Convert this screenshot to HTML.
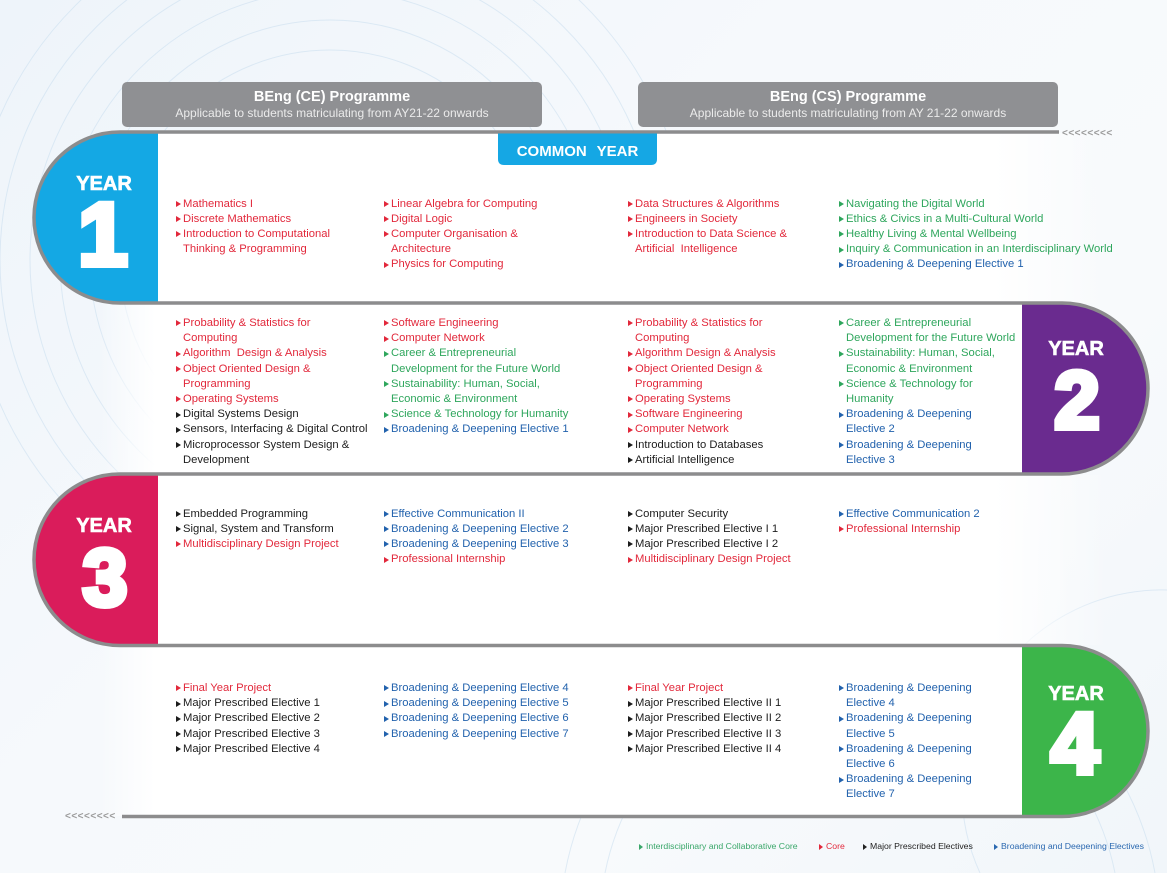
<!DOCTYPE html>
<html><head><meta charset="utf-8">
<style>
html,body{margin:0;padding:0;width:1167px;height:873px;overflow:hidden;}
body{font-family:"Liberation Sans",Arial,sans-serif;}
#wrap{position:relative;width:1167px;height:873px;overflow:hidden;background:linear-gradient(135deg,#eef4fa 0%,#f6f9fc 40%,#f8fafc 70%,#f1f6fa 100%);}
.abs{position:absolute;}
.hdr{position:absolute;top:82px;width:420px;height:45px;background:#8f9093;border-radius:5px;color:#fff;text-align:center;}
.col{position:absolute;font-size:11.25px;line-height:15.2px;white-space:nowrap;}
.col div{position:relative;padding-left:7px;}
.col div::before{content:"";position:absolute;left:0;top:4.4px;border-left:5px solid currentColor;border-top:3.2px solid transparent;border-bottom:3.2px solid transparent;}
.r{color:#e2283b}.g{color:#2ea65c}.b{color:#2262ad}.k{color:#1c1c1c}
.yr{position:absolute;width:120px;text-align:center;color:#fff;font-weight:bold;}
.yw{font-size:20px;line-height:20px;-webkit-text-stroke:0.6px #fff;}
.dg{-webkit-text-stroke:6px #fff;}
.arr{position:absolute;font-size:10px;font-weight:bold;color:#9a9a9a;letter-spacing:0.5px;line-height:10px;}
.leg{position:absolute;top:841px;font-size:8.7px;line-height:11px;white-space:nowrap;padding-left:7px;}
.leg::before{content:"";position:absolute;left:0;top:2.5px;border-left:4.5px solid currentColor;border-top:3px solid transparent;border-bottom:3px solid transparent;}
</style></head><body><div id="wrap">

<svg class="abs" style="left:0;top:0" width="1167" height="873" viewBox="0 0 1167 873">
<defs>
<linearGradient id="fadeR" x1="0" x2="1" y1="0" y2="0">
<stop offset="0" stop-color="#fff" stop-opacity="1"/>
<stop offset="0.88" stop-color="#fff" stop-opacity="1"/>
<stop offset="1" stop-color="#fff" stop-opacity="0"/>
</linearGradient>
<linearGradient id="fadeL" x1="0" x2="1" y1="0" y2="0">
<stop offset="0" stop-color="#fff" stop-opacity="0"/>
<stop offset="0.06" stop-color="#fff" stop-opacity="1"/>
<stop offset="1" stop-color="#fff" stop-opacity="1"/>
</linearGradient>
</defs>
<g fill="none" stroke="#c6dcee" stroke-width="1" opacity="0.5">
<circle cx="330" cy="260" r="210"/>
<circle cx="330" cy="260" r="240"/>
<circle cx="330" cy="260" r="270"/>
<circle cx="330" cy="260" r="300"/>
<circle cx="330" cy="260" r="330"/>
<circle cx="330" cy="260" r="360"/>
<path d="M605,873 A260,260 0 0 1 1115,873"/>
<path d="M565,873 A300,300 0 0 1 1155,873"/>
<path d="M980,873 A200,200 0 0 1 1167,590"/>
</g>
<rect x="158" y="133" width="950" height="170" fill="url(#fadeR)"/>
<rect x="100" y="304" width="922" height="170" fill="url(#fadeL)"/>
<rect x="158" y="475" width="950" height="170" fill="url(#fadeR)"/>
<rect x="100" y="646" width="922" height="170" fill="url(#fadeL)"/>

<path d="M158,132 L120,132 A86,85.5 0 0 0 34,217.5 A86,85.5 0 0 0 120,303 L158,303 Z" fill="#14a8e4"/>
<path d="M1022,303 L1062,303 A86,85.5 0 0 1 1148,388.5 A86,85.5 0 0 1 1062,474 L1022,474 Z" fill="#6a2b8f"/>
<path d="M158,474 L120,474 A86,85.75 0 0 0 34,559.75 A86,85.75 0 0 0 120,645.5 L158,645.5 Z" fill="#da1c5b"/>
<path d="M1022,645.5 L1062,645.5 A86,85.5 0 0 1 1148,731 A86,85.5 0 0 1 1062,816.5 L1022,816.5 Z" fill="#3cb54a"/>

<path d="M1059,132 L120,132 A86,85.5 0 0 0 34,217.5 A86,85.5 0 0 0 120,303 L1062,303 A86,85.5 0 0 1 1148,388.5 A86,85.5 0 0 1 1062,474 L120,474 A86,85.75 0 0 0 34,559.75 A86,85.75 0 0 0 120,645.5 L1062,645.5 A86,85.5 0 0 1 1148,731 A86,85.5 0 0 1 1062,816.5 L122,816.5" fill="none" stroke="#8c8c8d" stroke-width="3.5"/>

<path d="M498,133.5 L657,133.5 L657,159 Q657,165 651,165 L504,165 Q498,165 498,159 Z" fill="#15a7e4"/>
</svg>

<div class="hdr" style="left:122px;">
<div class="abs" style="left:0;right:0;top:7px;font-size:14.5px;font-weight:bold;line-height:16px;">BEng (CE) Programme</div>
<div class="abs" style="left:0;right:0;top:24px;font-size:12px;line-height:14px;color:#ebebeb;">Applicable to students matriculating from AY21-22 onwards</div>
</div>
<div class="hdr" style="left:638px;">
<div class="abs" style="left:0;right:0;top:7px;font-size:14.5px;font-weight:bold;line-height:16px;">BEng (CS) Programme</div>
<div class="abs" style="left:0;right:0;top:24px;font-size:12px;line-height:14px;color:#ebebeb;">Applicable to students matriculating from AY 21-22 onwards</div>
</div>

<div class="abs" style="left:498px;width:159px;top:143px;text-align:center;color:#fff;font-weight:bold;font-size:15px;line-height:17px;word-spacing:6px;">COMMON YEAR</div>

<div class="arr" style="left:1062px;top:129px;">&lt;&lt;&lt;&lt;&lt;&lt;&lt;&lt;</div>
<div class="arr" style="left:65px;top:812px;">&lt;&lt;&lt;&lt;&lt;&lt;&lt;&lt;</div>

<!-- YEAR labels -->
<div class="yr yw" style="left:44px;top:174px;">YEAR</div>
<div class="yr dg" style="left:43px;top:189.7px;font-size:89px;line-height:89px;">1</div>
<div class="yr yw" style="left:1016px;top:338.5px;">YEAR</div>
<div class="yr dg" style="left:1017px;top:361.4px;font-size:81px;line-height:81px;">2</div>
<div class="yr yw" style="left:44px;top:516px;">YEAR</div>
<div class="yr dg" style="left:45px;top:538.3px;font-size:80px;line-height:80px;">3</div>
<div class="yr yw" style="left:1016px;top:684px;">YEAR</div>
<div class="yr dg" style="left:1015px;top:700.7px;font-size:86.6px;line-height:86.6px;">4</div>

<!-- Year 1 -->
<div class="col" style="left:176px;top:196.5px;">
<div class="r">Mathematics I</div>
<div class="r">Discrete Mathematics</div>
<div class="r">Introduction to Computational<br>Thinking &amp; Programming</div>
</div>
<div class="col" style="left:384px;top:196.5px;">
<div class="r">Linear Algebra for Computing</div>
<div class="r">Digital Logic</div>
<div class="r">Computer Organisation &amp;<br>Architecture</div>
<div class="r">Physics for Computing</div>
</div>
<div class="col" style="left:628px;top:196.5px;">
<div class="r">Data Structures &amp; Algorithms</div>
<div class="r">Engineers in Society</div>
<div class="r">Introduction to Data Science &amp;<br>Artificial&nbsp; Intelligence</div>
</div>
<div class="col" style="left:839px;top:196.5px;">
<div class="g">Navigating the Digital World</div>
<div class="g">Ethics &amp; Civics in a Multi-Cultural World</div>
<div class="g">Healthy Living &amp; Mental Wellbeing</div>
<div class="g">Inquiry &amp; Communication in an Interdisciplinary World</div>
<div class="b">Broadening &amp; Deepening Elective 1</div>
</div>

<!-- Year 2 -->
<div class="col" style="left:176px;top:316px;">
<div class="r">Probability &amp; Statistics for<br>Computing</div>
<div class="r">Algorithm&nbsp; Design &amp; Analysis</div>
<div class="r">Object Oriented Design &amp;<br>Programming</div>
<div class="r">Operating Systems</div>
<div class="k">Digital Systems Design</div>
<div class="k">Sensors, Interfacing &amp; Digital Control</div>
<div class="k">Microprocessor System Design &amp;<br>Development</div>
</div>
<div class="col" style="left:384px;top:316px;">
<div class="r">Software Engineering</div>
<div class="r">Computer Network</div>
<div class="g">Career &amp; Entrepreneurial<br>Development for the Future World</div>
<div class="g">Sustainability: Human, Social,<br>Economic &amp; Environment</div>
<div class="g">Science &amp; Technology for Humanity</div>
<div class="b">Broadening &amp; Deepening Elective 1</div>
</div>
<div class="col" style="left:628px;top:316px;">
<div class="r">Probability &amp; Statistics for<br>Computing</div>
<div class="r">Algorithm Design &amp; Analysis</div>
<div class="r">Object Oriented Design &amp;<br>Programming</div>
<div class="r">Operating Systems</div>
<div class="r">Software Engineering</div>
<div class="r">Computer Network</div>
<div class="k">Introduction to Databases</div>
<div class="k">Artificial Intelligence</div>
</div>
<div class="col" style="left:839px;top:316px;">
<div class="g">Career &amp; Entrepreneurial<br>Development for the Future World</div>
<div class="g">Sustainability: Human, Social,<br>Economic &amp; Environment</div>
<div class="g">Science &amp; Technology for<br>Humanity</div>
<div class="b">Broadening &amp; Deepening<br>Elective 2</div>
<div class="b">Broadening &amp; Deepening<br>Elective 3</div>
</div>

<!-- Year 3 -->
<div class="col" style="left:176px;top:506.5px;">
<div class="k">Embedded Programming</div>
<div class="k">Signal, System and Transform</div>
<div class="r">Multidisciplinary Design Project</div>
</div>
<div class="col" style="left:384px;top:506.5px;">
<div class="b">Effective Communication II</div>
<div class="b">Broadening &amp; Deepening Elective 2</div>
<div class="b">Broadening &amp; Deepening Elective 3</div>
<div class="r">Professional Internship</div>
</div>
<div class="col" style="left:628px;top:506.5px;">
<div class="k">Computer Security</div>
<div class="k">Major Prescribed Elective I 1</div>
<div class="k">Major Prescribed Elective I 2</div>
<div class="r">Multidisciplinary Design Project</div>
</div>
<div class="col" style="left:839px;top:506.5px;">
<div class="b">Effective Communication 2</div>
<div class="r">Professional Internship</div>
</div>

<!-- Year 4 -->
<div class="col" style="left:176px;top:681px;">
<div class="r">Final Year Project</div>
<div class="k">Major Prescribed Elective 1</div>
<div class="k">Major Prescribed Elective 2</div>
<div class="k">Major Prescribed Elective 3</div>
<div class="k">Major Prescribed Elective 4</div>
</div>
<div class="col" style="left:384px;top:681px;">
<div class="b">Broadening &amp; Deepening Elective 4</div>
<div class="b">Broadening &amp; Deepening Elective 5</div>
<div class="b">Broadening &amp; Deepening Elective 6</div>
<div class="b">Broadening &amp; Deepening Elective 7</div>
</div>
<div class="col" style="left:628px;top:681px;">
<div class="r">Final Year Project</div>
<div class="k">Major Prescribed Elective II 1</div>
<div class="k">Major Prescribed Elective II 2</div>
<div class="k">Major Prescribed Elective II 3</div>
<div class="k">Major Prescribed Elective II 4</div>
</div>
<div class="col" style="left:839px;top:681px;">
<div class="b">Broadening &amp; Deepening<br>Elective 4</div>
<div class="b">Broadening &amp; Deepening<br>Elective 5</div>
<div class="b">Broadening &amp; Deepening<br>Elective 6</div>
<div class="b">Broadening &amp; Deepening<br>Elective 7</div>
</div>

<!-- Legend -->
<div class="leg" style="left:639px;color:#3aa76a;">Interdisciplinary and Collaborative Core</div>
<div class="leg" style="left:819px;color:#e2283b;">Core</div>
<div class="leg" style="left:863px;color:#222;">Major Prescribed Electives</div>
<div class="leg" style="left:994px;color:#2a68b0;">Broadening and Deepening Electives</div>

</div></body></html>
